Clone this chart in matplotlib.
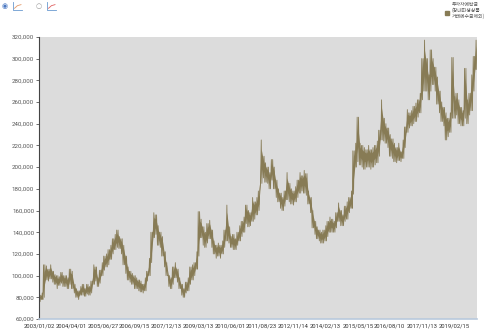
import matplotlib
matplotlib.use("Agg")
import matplotlib.pyplot as plt
from matplotlib.lines import Line2D
from matplotlib.ticker import FuncFormatter, MultipleLocator
import numpy as np
import pandas as pd

plt.rcParams["font.family"] = ["Noto Sans CJK KR", "DejaVu Sans"]

series_name = "투자자예탁금\n(장내파생상품\n거래예수금제외)"

tick_labels = [
    "2003/01/02", "2004/04/01", "2005/06/27", "2006/09/15", "2007/12/13",
    "2009/03/13", "2010/06/01", "2011/08/23", "2012/11/14", "2014/02/13",
    "2015/05/15", "2016/08/10", "2017/11/13", "2019/02/15",
]

# monthly high / low of the daily series (억원, in thousands), Jan..Dec per row
monthly_high = [
    82, 84, 110, 109, 106, 110, 104, 101, 100, 99, 103, 100,      # 2003
    100, 98, 106, 104, 92, 88, 86, 90, 92, 88, 92, 90,            # 2004
    95, 110, 108, 98, 105, 112, 118, 120, 124, 128, 134, 138,     # 2005
    142, 136, 134, 128, 118, 108, 104, 102, 100, 98, 96, 95,      # 2006
    92, 98, 104, 116, 140, 158, 156, 146, 140, 136, 122, 112,     # 2007
    100, 98, 108, 112, 106, 98, 92, 88, 94, 98, 108, 110,         # 2008
    112, 122, 159, 152, 145, 140, 148, 151, 142, 132, 128, 130,   # 2009
    128, 132, 142, 165, 145, 136, 138, 134, 140, 146, 150, 154,   # 2010
    165, 160, 158, 172, 168, 172, 178, 225, 210, 204, 200, 195,   # 2011
    207, 200, 188, 180, 176, 172, 178, 195, 185, 180, 178, 182,   # 2012
    188, 195, 192, 197, 194, 178, 172, 160, 150, 145, 142, 140,   # 2013
    142, 146, 150, 154, 152, 150, 158, 167, 160, 156, 164, 168,   # 2014
    172, 178, 215, 222, 246, 222, 220, 218, 216, 220, 216, 218,   # 2015
    220, 224, 234, 262, 245, 240, 236, 230, 226, 222, 218, 222,   # 2016
    214, 225, 237, 253, 250, 252, 256, 259, 262, 268, 300, 317,   # 2017
    300, 285, 308, 300, 292, 283, 270, 260, 255, 250, 245, 250,   # 2018
    301, 265, 268, 262, 255, 252, 291, 262, 268, 285, 302, 317,   # 2019
]
monthly_low = [
    76, 78, 80, 96, 95, 97, 94, 92, 88, 91, 93, 90,               # 2003
    90, 88, 92, 88, 84, 80, 78, 82, 82, 81, 83, 82,               # 2004
    84, 92, 95, 90, 93, 100, 105, 108, 110, 115, 120, 124,        # 2005
    126, 125, 120, 110, 102, 96, 94, 92, 88, 88, 86, 85,          # 2006
    84, 86, 95, 100, 112, 135, 138, 128, 126, 118, 108, 100,      # 2007
    90, 88, 92, 98, 94, 88, 82, 80, 84, 86, 92, 96,               # 2008
    100, 106, 118, 135, 128, 126, 130, 134, 126, 120, 116, 118,   # 2009
    116, 120, 126, 132, 130, 126, 124, 124, 128, 132, 136, 140,   # 2010
    148, 145, 146, 150, 152, 156, 160, 185, 190, 186, 185, 180,   # 2011
    188, 180, 172, 168, 162, 160, 164, 170, 168, 166, 165, 168,   # 2012
    172, 176, 178, 176, 174, 166, 158, 144, 138, 134, 132, 130,   # 2013
    130, 132, 136, 140, 140, 140, 144, 150, 146, 146, 150, 152,   # 2014
    158, 162, 175, 200, 205, 202, 200, 198, 200, 200, 198, 200,   # 2015
    202, 204, 210, 225, 224, 222, 218, 210, 208, 205, 204, 206,   # 2016
    205, 208, 218, 232, 236, 238, 240, 242, 246, 250, 262, 270,   # 2017
    270, 262, 270, 276, 270, 258, 250, 242, 238, 225, 228, 232,   # 2018
    245, 245, 248, 240, 238, 238, 245, 240, 248, 252, 270, 290,   # 2019
]

line_color = "#877b55"


def main() -> None:
    months = pd.date_range("2003-01-01", periods=len(monthly_high), freq="MS")
    high = np.array(monthly_high) * 1000
    low = np.array(monthly_low) * 1000

    # zigzag through each month's high and low, alternating the order
    dates, values = [], []
    for i, m in enumerate(months):
        pair = (high[i], low[i]) if i % 2 == 0 else (low[i], high[i])
        dates += [m + pd.Timedelta(days=6), m + pd.Timedelta(days=16), m + pd.Timedelta(days=25)]
        values += [pair[0], pair[1], pair[0]]

    fig = plt.figure(figsize=(5.0, 3.32), dpi=100)
    ax = fig.add_axes([0.078, 0.039, 0.876, 0.850])
    ax.set_facecolor("#dcdcdc")
    mid = months + pd.Timedelta(days=15)
    ax.fill_between(mid, (high * 0.35 + low * 0.65), (high * 0.8 + low * 0.2),
                    color=line_color, lw=0)
    ax.plot(pd.to_datetime(dates), values, color=line_color, lw=0.6)

    ax.set_xlim(pd.Timestamp("2003-01-02"), pd.Timestamp("2019-12-30"))
    ax.set_ylim(60000, 320000)
    ax.yaxis.set_major_locator(MultipleLocator(20000))
    ax.yaxis.set_major_formatter(FuncFormatter(lambda v, _: f"{int(v):,}"))

    ax.set_xticks(pd.to_datetime(tick_labels, format="%Y/%m/%d"))
    ax.set_xticklabels(tick_labels)
    ax.tick_params(axis="x", length=0, pad=3, labelsize=4.2, labelcolor="#333333")
    ax.tick_params(axis="y", length=2, width=0.6, pad=1.5, labelsize=4.4,
                   labelcolor="#555555", color="#555555")
    for lab in ax.get_xticklabels() + ax.get_yticklabels():
        lab.set_family(["Roboto", "DejaVu Sans"])

    for side in ("top", "right"):
        ax.spines[side].set_visible(False)
    ax.spines["left"].set_color("#444444")
    ax.spines["left"].set_linewidth(0.8)
    ax.spines["bottom"].set_color("#b9c9dd")
    ax.spines["bottom"].set_linewidth(1.2)

    # legend in the top right corner
    fig.patches.append(plt.Rectangle((0.890, 0.954), 0.008, 0.012, transform=fig.transFigure,
                                     color=line_color, figure=fig))
    fig.text(0.904, 0.995, series_name, ha="left", va="top", fontsize=3.5,
             color="#555555", linespacing=1.15)

    # chart type toggles in the top left corner
    fig.text(0.004, 0.982, "◉", fontsize=5, color="#4a78c2", va="center", family="DejaVu Sans")
    fig.text(0.072, 0.982, "○", fontsize=5, color="#999999", va="center", family="DejaVu Sans")
    for x0, c in ((0.026, "#e39a6a"), (0.094, "#e06060")):
        fig.add_artist(Line2D([x0, x0, x0 + 0.018], [0.995, 0.970, 0.970], color="#6a9ad0", lw=0.6))
        fig.add_artist(Line2D([x0 + 0.003, x0 + 0.009, x0 + 0.016], [0.975, 0.983, 0.986], color=c, lw=0.6))

    fig.savefig("out.png", dpi=100)


if __name__ == "__main__":
    main()
